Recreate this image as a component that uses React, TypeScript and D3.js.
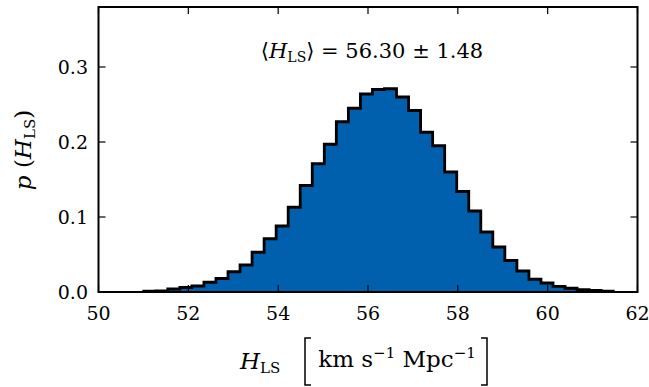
import * as d3 from "d3";

// histogram of H_LS samples, density per bin
const binStart = 51.007;
const binWidth = 0.268;
const density = [
  0.001, 0.0015, 0.004, 0.006, 0.008, 0.013, 0.018, 0.027, 0.036, 0.053,
  0.071, 0.088, 0.113, 0.142, 0.171, 0.197, 0.227, 0.245, 0.264, 0.27,
  0.271, 0.26, 0.242, 0.213, 0.195, 0.16, 0.134, 0.108, 0.08, 0.06,
  0.042, 0.028, 0.017, 0.012, 0.0076, 0.005, 0.003, 0.002, 0.001,
];
const xTicks = [50, 52, 54, 56, 58, 60, 62];
const yTicks = [0, 0.1, 0.2, 0.3];
const yTickLabels = ["0.0", "0.1", "0.2", "0.3"];

const W = 649;
const H = 387;
const left = 98.5;
const right = 637.5;
const top = 7;
const bottom = 292;
const font = '"DejaVu Serif", serif';

// a tall square bracket drawn as a path
const bracket = (bx: number, y0: number, y1: number, dir: number) =>
  `M${bx + dir * 6},${y0}H${bx}V${y1}H${bx + dir * 6}`;

export default function App() {
  const x = d3.scaleLinear().domain([50, 62]).range([left, right]);
  const y = d3.scaleLinear().domain([0, 0.38]).range([bottom, top]);

  const pts: [number, number][] = density.map((d, i) => [binStart + i * binWidth, d]);
  pts.push([binStart + density.length * binWidth, density[density.length - 1]]);

  const area = d3
    .area<[number, number]>()
    .x((d) => x(d[0]))
    .y0(y(0))
    .y1((d) => y(d[1]))
    .curve(d3.curveStepAfter);

  const line = d3
    .line<[number, number]>()
    .x((d) => x(d[0]))
    .y((d) => y(d[1]))
    .curve(d3.curveStepAfter);

  const first = pts[0][0];
  const last = pts[pts.length - 1][0];
  const outlinePath =
    `M${x(first)},${y(0)}` + line(pts)!.replace(/^M/, "L") + `L${x(last)},${y(0)}`;

  const tickLen = 7;

  return (
    <svg
      width={W}
      height={H}
      style={{ position: "absolute", left: 0, top: 0, background: "#fff", fontFamily: font }}
    >
      <path d={area(pts)!} fill="#0060ad" stroke="none" />
      <path d={outlinePath} fill="none" stroke="#000" strokeWidth={2.8} strokeLinejoin="miter" />

      {/* ticks, inside on all four sides */}
      {xTicks.map((t) => (
        <g key={"x" + t}>
          <line x1={x(t)} x2={x(t)} y1={bottom} y2={bottom - tickLen} stroke="#000" strokeWidth={1.2} />
          <line x1={x(t)} x2={x(t)} y1={top} y2={top + tickLen} stroke="#000" strokeWidth={1.2} />
          <text x={x(t)} y={320} textAnchor="middle" fontSize={19} fill="#000">
            {t}
          </text>
        </g>
      ))}
      {yTicks.map((t, i) => (
        <g key={"y" + t}>
          <line x1={left} x2={left + tickLen} y1={y(t)} y2={y(t)} stroke="#000" strokeWidth={1.2} />
          <line x1={right} x2={right - tickLen} y1={y(t)} y2={y(t)} stroke="#000" strokeWidth={1.2} />
          <text x={88} y={y(t) + 7} textAnchor="end" fontSize={19} fill="#000">
            {yTickLabels[i]}
          </text>
        </g>
      ))}

      <rect x={left} y={top} width={right - left} height={bottom - top} fill="none" stroke="#000" strokeWidth={2} />

      {/* annotation */}
      <text x={372} y={58} textAnchor="middle" fontSize={21} fill="#000">
        <tspan>⟨</tspan>
        <tspan fontStyle="italic">H</tspan>
        <tspan fontSize={14} dy={4}>LS</tspan>
        <tspan dy={-4}>⟩ = 56.30 ± 1.48</tspan>
      </text>

      {/* y label */}
      <text transform="translate(31,150) rotate(-90)" textAnchor="middle" fontSize={23} fill="#000">
        <tspan fontStyle="italic">p</tspan>
        <tspan> (</tspan>
        <tspan fontStyle="italic">H</tspan>
        <tspan fontSize={15} dy={4}>LS</tspan>
        <tspan dy={-4}>)</tspan>
      </text>

      {/* x label */}
      <text x={240} y={369} fontSize={23} fill="#000">
        <tspan fontStyle="italic">H</tspan>
        <tspan fontSize={15} dy={4}>LS</tspan>
      </text>
      <path d={bracket(305, 338, 385, 1)} fill="none" stroke="#000" strokeWidth={1.5} />
      <text x={397} y={367} textAnchor="middle" fontSize={23} fill="#000">
        <tspan>km s</tspan>
        <tspan fontSize={15} dy={-9}>−1</tspan>
        <tspan dy={9}> Mpc</tspan>
        <tspan fontSize={15} dy={-9}>−1</tspan>
      </text>
      <path d={bracket(487, 338, 385, -1)} fill="none" stroke="#000" strokeWidth={1.5} />
    </svg>
  );
}
